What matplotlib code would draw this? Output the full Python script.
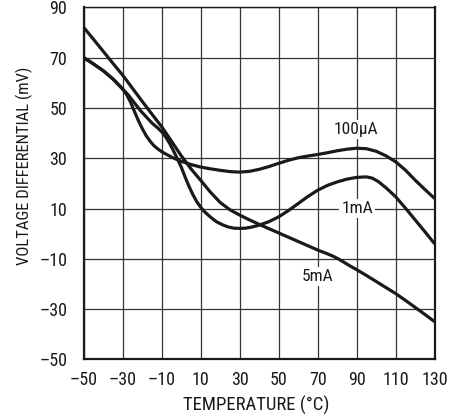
import matplotlib
matplotlib.use("Agg")
import matplotlib.pyplot as plt
import matplotlib.font_manager as fm

# Temperature (°C) and voltage differential (mV)
t_100uA = [-50, -45, -40, -35, -30, -28, -26, -24, -22, -20, -18, -16, -14, -12, -10, -7, -4, 0, 5, 10, 15, 20, 25, 30, 35, 40, 45, 50, 55, 60, 65, 70, 75, 80, 85, 90, 95, 100, 105, 110, 115, 120, 125, 130]
v_100uA = [70, 67.5, 64.8, 61.5, 57.5, 55.3, 52.3, 48.6, 45, 41.8, 39, 36.8, 35, 33.7, 32.6, 31.3, 30.1, 28.8, 27.5, 26.5, 25.8, 25.2, 24.7, 24.5, 24.8, 25.6, 26.7, 28, 29.2, 30.2, 30.9, 31.5, 32.2, 33, 33.6, 34, 33.8, 32.8, 31, 28.6, 25.3, 21.3, 17.6, 14]

t_1mA = [-50, -45, -40, -35, -30, -27, -24, -21, -18, -15, -12, -10, -8, -6, -4, -2, 0, 2, 4, 6, 8, 10, 12, 15, 18, 21, 24, 27, 30, 33, 36, 40, 45, 50, 55, 60, 65, 70, 75, 80, 85, 90, 95, 98, 101, 105, 110, 115, 120, 125, 130]
v_1mA = [70, 67.5, 64.8, 61.5, 57.5, 55, 52, 49, 46.5, 44, 42, 40.5, 38.5, 36, 33, 29.8, 26.5, 22.5, 18.8, 15.5, 12.7, 10.5, 8.7, 6.6, 4.8, 3.6, 2.7, 2.2, 2.1, 2.2, 2.6, 3.4, 4.8, 6.7, 9.2, 12, 14.8, 17.3, 19.2, 20.6, 21.7, 22.4, 22.6, 22.1, 20.8, 18.3, 14.7, 10.2, 5.5, 0.8, -4]

t_5mA = [-50, -45, -40, -35, -30, -25, -20, -15, -10, -5, 0, 5, 10, 15, 20, 25, 30, 35, 40, 45, 50, 55, 60, 65, 70, 75, 78, 81, 84, 87, 90, 95, 100, 105, 110, 115, 120, 125, 130]
v_5mA = [82, 77.3, 72.5, 67.7, 63, 57.8, 52.6, 47.5, 42.5, 36.8, 31, 25.8, 21.2, 16.5, 12.4, 9.5, 7.4, 5.5, 3.7, 2, 0.3, -1.4, -3.1, -4.8, -6.5, -8, -9, -10.2, -11.6, -13, -14.3, -16.6, -19, -21.4, -23.8, -26.5, -29.3, -32.1, -35]

x_ticks = [-50, -30, -10, 10, 30, 50, 70, 90, 110, 130]
y_ticks = [-50, -30, -10, 10, 30, 50, 70, 90]

labels = ["100µA", "1mA", "5mA"]
label_pos = [(89.5, 41.5), (90.3, 10), (70, -17)]

# pick a narrow/condensed sans font if one is installed
names = {f.name for f in fm.fontManager.ttflist}
cond = {f.name for f in fm.fontManager.ttflist
        if f.stretch in ('condensed', 'semi-condensed', 'extra-condensed', 400, 300, 200)}
family = None
stretch = 'normal'
for n in ['Liberation Sans Narrow', 'Arial Narrow', 'Roboto Condensed', 'Open Sans Condensed', 'Noto Sans Condensed']:
    if n in names:
        family = n
        break
if family is None:
    for n in ['Noto Sans', 'Open Sans', 'Roboto', 'DejaVu Sans']:
        if n in cond:
            family = n
            stretch = 'condensed'
            break
if family is None:
    family = 'Liberation Sans'
plt.rcParams['font.family'] = [family, 'DejaVu Sans']
plt.rcParams['font.stretch'] = stretch

fig = plt.figure(figsize=(4.63, 4.19), dpi=100)
ax = fig.add_axes([0.181, 0.1422, 0.7577, 0.8401])

for t, v in [(t_100uA, v_100uA), (t_1mA, v_1mA), (t_5mA, v_5mA)]:
    ax.plot(t, v, color='#1a1a1a', lw=2.3, solid_joinstyle='round', solid_capstyle='butt', zorder=3, clip_on=False)

ax.set_xlim(-50, 130)
ax.set_ylim(-50, 90)
ax.set_xticks(x_ticks)
ax.set_yticks(y_ticks)
ax.set_xticklabels([str(v).replace('-', '\u2013') for v in x_ticks])
ax.set_yticklabels([str(v).replace('-', '\u2013') for v in y_ticks])
ax.tick_params(length=0, labelsize=13, colors='#1a1a1a')
ax.tick_params(axis='y', pad=12)
ax.tick_params(axis='x', pad=8)
ax.grid(True, color='#333333', lw=0.9, zorder=1)
ax.set_axisbelow(True)

for name, sp in ax.spines.items():
    sp.set_color('#1a1a1a')
    sp.set_linewidth(1.6 if name != 'top' else 1.0)

for lab, (x, y) in zip(labels, label_pos):
    ax.text(x, y, lab, ha='center', va='center', fontsize=12.5, color='#1a1a1a', zorder=4,
            bbox=dict(boxstyle='square,pad=0.12', fc='white', ec='none'))

ax.set_xlabel("TEMPERATURE (°C)", fontsize=13.5, color='#1a1a1a')
ax.set_ylabel("VOLTAGE DIFFERENTIAL (mV)", fontsize=12, color='#1a1a1a')
ax.xaxis.set_label_coords(0.4926, -0.104)
ax.yaxis.set_label_coords(-0.1455, 0.549)

fig.savefig("out.png", dpi=100)
